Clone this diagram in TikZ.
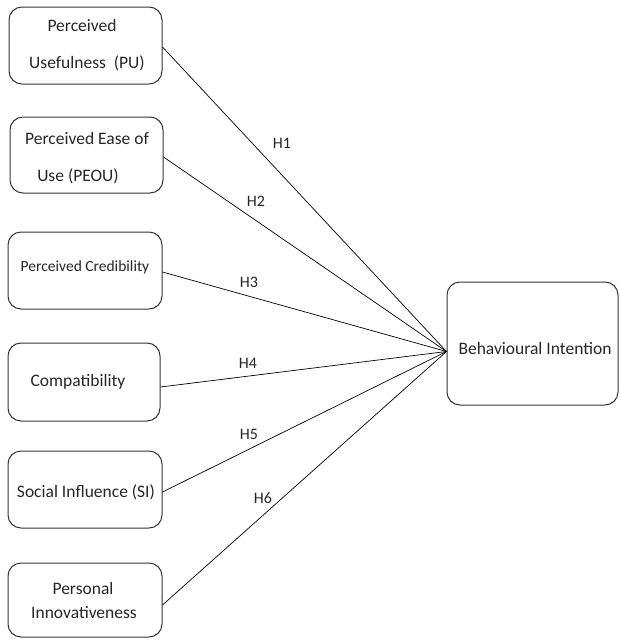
\documentclass[tikz,border=0pt]{standalone}
\usepackage{fontspec}
\setmainfont{Carlito}
\usetikzlibrary{calc}
\begin{document}
\begin{tikzpicture}[x=1pt,y=-1pt,
  box/.style={draw=black!80,line width=1pt,rounded corners=13pt,inner sep=0pt},
  txt/.style={inner sep=0pt,font=\fontsize{17.5}{20}\selectfont,text=black!85},
  stxt/.style={inner sep=0pt,font=\fontsize{15.5}{18}\selectfont,text=black!85},
  lbl/.style={inner sep=0pt,font=\fontsize{16}{18}\selectfont,text=black!85},
  conn/.style={draw=black,line width=0.7pt}]
\useasboundingbox (0,0) rectangle (619,640);
% boxes
\node[box,minimum width=153pt,minimum height=77pt] (b1) at (85.5,45.5) {};
\node[box,minimum width=153pt,minimum height=76pt] (b2) at (86.5,155) {};
\node[box,minimum width=154pt,minimum height=77pt] (b3) at (85,270.5) {};
\node[box,minimum width=152pt,minimum height=78pt] (b4) at (84,382) {};
\node[box,minimum width=154pt,minimum height=77pt] (b5) at (85,489.5) {};
\node[box,minimum width=154pt,minimum height=74pt] (b6) at (85,600) {};
\node[box,minimum width=171pt,minimum height=123pt] (bi) at (532.5,343.5) {};
% texts
\node[txt] (t1a) at (82,25) {Perceived};
\node[txt] (t1b) at (87,63) {Usefulness\ \ (PU)};
\node[txt] (t2a) at (87,138) {Perceived Ease of};
\node[txt] (t2b) at (78,176) {Use (PEOU)};
\node[stxt] (t3) at (85,267) {Perceived Credibility};
\node[txt] (t4) at (78,382) {Compatibility};
\node[txt] (t5) at (86,492) {Social Influence (SI)};
\node[txt] (t6a) at (83,588) {Personal};
\node[txt] (t6b) at (84,613) {Innovativeness};
\node[txt] (ti) at (535,348) {Behavioural Intention};
% connectors
\coordinate (hub) at ([yshift=-8pt]bi.west);
\draw[conn] ([yshift=-1.5pt]b1.east) -- (hub);
\draw[conn] ([yshift=-2pt]b2.east) -- (hub);
\draw[conn] ([yshift=-1.5pt]b3.east) -- (hub);
\draw[conn] ([yshift=-5pt]b4.east) -- (hub);
\draw[conn] ([yshift=-2.5pt]b5.east) -- (hub);
\draw[conn] ([yshift=-5pt]b6.east) -- (hub);
% labels
\node[lbl] (h1) at (282,143) {H1};
\node[lbl] (h2) at (256,201) {H2};
\node[lbl] (h3) at (249,282) {H3};
\node[lbl] (h4) at (248,363) {H4};
\node[lbl] (h5) at (249,434) {H5};
\node[lbl] (h6) at (263,498) {H6};
\end{tikzpicture}
\end{document}
